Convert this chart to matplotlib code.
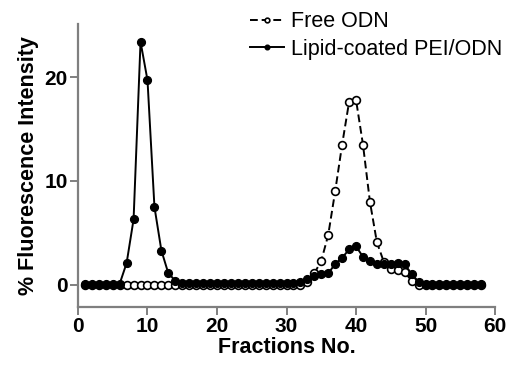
import numpy as np
import matplotlib.pyplot as plt

plt.rcParams["font.family"] = ["Liberation Sans", "DejaVu Sans"]

fractions = np.arange(1, 59)

free_odn = (
    [0.0] * 32
    + [0.3, 1.1, 2.3, 4.8, 9.0, 13.5, 17.6, 17.8, 13.5, 8.0, 4.1, 2.2, 1.5, 1.4, 1.2, 0.4]
    + [0.0] * 10
)
lipid_pei = (
    [0.1] * 6
    + [2.1, 6.3, 23.4, 19.7, 7.5, 3.3, 1.1, 0.4]
    + [0.2] * 17
    + [0.3, 0.6, 0.8, 1.0, 1.1, 2.0, 2.6, 3.4, 3.7, 2.7, 2.3, 2.0, 2.0, 2.0, 2.1, 2.0, 1.0, 0.3]
    + [0.1] * 9
)

fig = plt.figure(figsize=(5.08, 3.65), dpi=100)
ax = fig.add_axes([0.1535, 0.160, 0.821, 0.774])

ax.plot(fractions, free_odn, color="black", linestyle=(0, (4, 2)), linewidth=1.4,
        marker="o", markersize=5.6, markerfacecolor="white", markeredgecolor="black",
        markeredgewidth=1.2, label="Free ODN", zorder=2)
ax.plot(fractions, lipid_pei, color="black", linestyle="-", linewidth=1.4,
        marker="o", markersize=5.6, markerfacecolor="black", markeredgecolor="black",
        label="Lipid-coated PEI/ODN", zorder=3)

ax.set_xlim(0, 60)
ax.set_ylim(-2.1, 25.1)
ax.set_xticks([0, 10, 20, 30, 40, 50, 60])
ax.set_yticks([0, 10, 20])

for side in ["top", "right"]:
    ax.spines[side].set_visible(False)
for side in ["left", "bottom"]:
    ax.spines[side].set_color("#7f7f7f")
    ax.spines[side].set_linewidth(1.6)

ax.tick_params(axis="both", direction="out", length=5.5, width=1.4, color="#7f7f7f",
               labelsize=15, pad=2)
for lbl in ax.get_xticklabels() + ax.get_yticklabels():
    lbl.set_fontweight("bold")

ax.set_xlabel("Fractions No.", fontsize=15.5, fontweight="bold", labelpad=1)
ax.set_ylabel("% Fluorescence Intensity", fontsize=15.5, fontweight="bold", labelpad=4)

leg = fig.legend(loc="upper left", bbox_to_anchor=(250 / 508, 0.969), frameon=False,
                 fontsize=15.5, handlelength=1.6, handletextpad=0.3, labelspacing=0.3,
                 borderpad=0, borderaxespad=0, markerscale=0.6)

fig.savefig("out.png", dpi=100)
